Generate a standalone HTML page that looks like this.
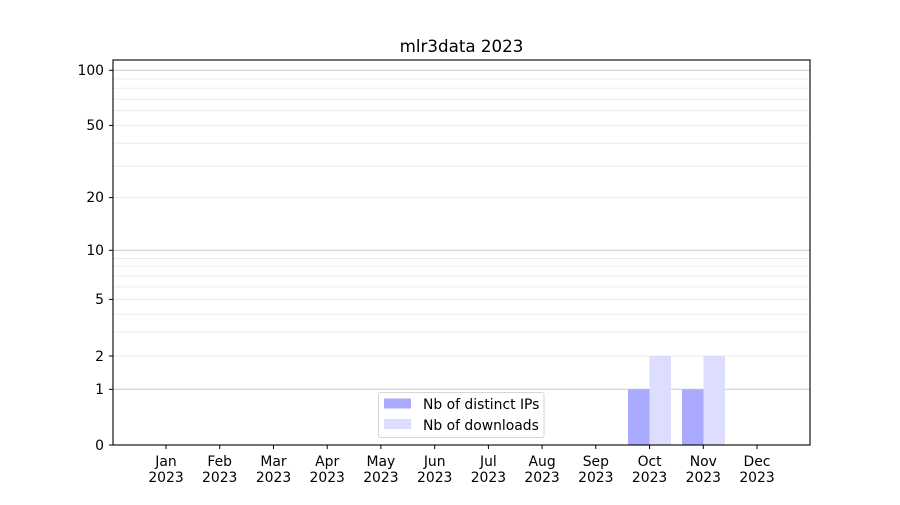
<!DOCTYPE html>
<html><head><meta charset="utf-8"><style>html,body{margin:0;padding:0;background:#fff}</style></head>
<body>
<svg width="900" height="500" viewBox="0 0 900 500" xmlns="http://www.w3.org/2000/svg" font-family="'DejaVu Sans','Liberation Sans',sans-serif" font-size="13.9" fill="#000">
<rect width="900" height="500" fill="#fff"/>
<text x="461.5" y="52" text-anchor="middle" font-size="16.7">mlr3data 2023</text>
<g stroke="#ececec" stroke-width="1">
<line x1="113" x2="810" y1="332.1" y2="332.1"/>
<line x1="113" x2="810" y1="314.2" y2="314.2"/>
<line x1="113" x2="810" y1="286.9" y2="286.9"/>
<line x1="113" x2="810" y1="276.0" y2="276.0"/>
<line x1="113" x2="810" y1="266.0" y2="266.0"/>
<line x1="113" x2="810" y1="258.5" y2="258.5"/>
<line x1="113" x2="810" y1="356.0" y2="356.0"/>
<line x1="113" x2="810" y1="299.4" y2="299.4"/>
<line x1="113" x2="810" y1="197.6" y2="197.6"/>
<line x1="113" x2="810" y1="125.4" y2="125.4"/>
<line x1="113" x2="810" y1="166.3" y2="166.3"/>
<line x1="113" x2="810" y1="143.2" y2="143.2"/>
<line x1="113" x2="810" y1="110.6" y2="110.6"/>
<line x1="113" x2="810" y1="99.2" y2="99.2"/>
<line x1="113" x2="810" y1="88.3" y2="88.3"/>
<line x1="113" x2="810" y1="79.0" y2="79.0"/>
</g>
<g stroke="#cccccc" stroke-width="1">
<line x1="113" x2="810" y1="389.3" y2="389.3"/>
<line x1="113" x2="810" y1="250.3" y2="250.3"/>
<line x1="113" x2="810" y1="70.3" y2="70.3"/>
</g>
<rect x="628" y="389.3" width="21.5" height="55.7" fill="#aaaaff"/>
<rect x="649.5" y="356" width="21.5" height="89" fill="#ddddff"/>
<rect x="682" y="389.3" width="21.5" height="55.7" fill="#aaaaff"/>
<rect x="703.5" y="356" width="21.5" height="89" fill="#ddddff"/>
<rect x="113" y="60" width="697" height="385" fill="none" stroke="#000" stroke-width="1.1"/>
<g stroke="#000" stroke-width="1">
<line x1="109" x2="113" y1="445" y2="445"/><line x1="109" x2="113" y1="389.3" y2="389.3"/>
<line x1="109" x2="113" y1="356" y2="356"/><line x1="109" x2="113" y1="299.4" y2="299.4"/>
<line x1="109" x2="113" y1="250.3" y2="250.3"/><line x1="109" x2="113" y1="197.6" y2="197.6"/>
<line x1="109" x2="113" y1="125.4" y2="125.4"/><line x1="109" x2="113" y1="70.3" y2="70.3"/>
</g>
<g text-anchor="end">
<text x="104" y="450">0</text><text x="104" y="394">1</text><text x="104" y="361">2</text>
<text x="104" y="304">5</text><text x="104" y="255">10</text><text x="104" y="202">20</text>
<text x="104" y="130">50</text><text x="104" y="75">100</text>
</g>
<g stroke="#000" stroke-width="1">
<line x1="166" x2="166" y1="445" y2="449"/><line x1="219.7" x2="219.7" y1="445" y2="449"/>
<line x1="273.5" x2="273.5" y1="445" y2="449"/><line x1="327.2" x2="327.2" y1="445" y2="449"/>
<line x1="380.9" x2="380.9" y1="445" y2="449"/><line x1="434.7" x2="434.7" y1="445" y2="449"/>
<line x1="488.4" x2="488.4" y1="445" y2="449"/><line x1="542.1" x2="542.1" y1="445" y2="449"/>
<line x1="595.8" x2="595.8" y1="445" y2="449"/><line x1="649.6" x2="649.6" y1="445" y2="449"/>
<line x1="703.3" x2="703.3" y1="445" y2="449"/><line x1="757" x2="757" y1="445" y2="449"/>
</g>
<g text-anchor="middle">
<text x="166" y="466">Jan</text><text x="166" y="482">2023</text>
<text x="219.7" y="466">Feb</text><text x="219.7" y="482">2023</text>
<text x="273.5" y="466">Mar</text><text x="273.5" y="482">2023</text>
<text x="327.2" y="466">Apr</text><text x="327.2" y="482">2023</text>
<text x="380.9" y="466">May</text><text x="380.9" y="482">2023</text>
<text x="434.7" y="466">Jun</text><text x="434.7" y="482">2023</text>
<text x="488.4" y="466">Jul</text><text x="488.4" y="482">2023</text>
<text x="542.1" y="466">Aug</text><text x="542.1" y="482">2023</text>
<text x="595.8" y="466">Sep</text><text x="595.8" y="482">2023</text>
<text x="649.6" y="466">Oct</text><text x="649.6" y="482">2023</text>
<text x="703.3" y="466">Nov</text><text x="703.3" y="482">2023</text>
<text x="757" y="466">Dec</text><text x="757" y="482">2023</text>
</g>
<rect x="378.5" y="392.5" width="165.5" height="45" rx="2" fill="#fff" fill-opacity="0.8" stroke="#d6d6d6"/>
<rect x="384" y="398.5" width="27" height="10" fill="#aaaaff"/>
<rect x="384" y="419" width="27" height="10" fill="#ddddff"/>
<text x="423" y="409">Nb of distinct IPs</text>
<text x="423" y="430">Nb of downloads</text>
</svg>
</body></html>
